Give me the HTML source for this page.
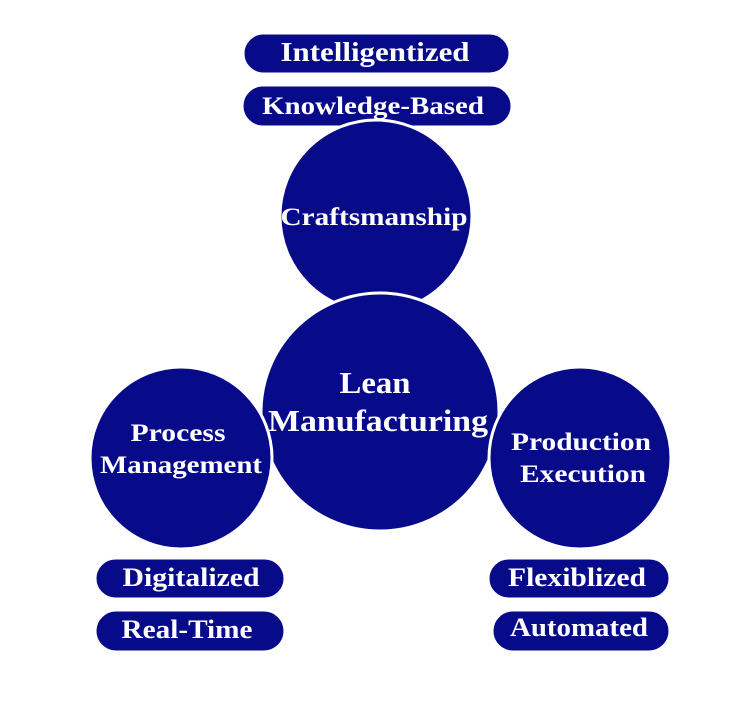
<!DOCTYPE html>
<html><head><meta charset="utf-8"><style>
body{margin:0;background:#fff;}
svg text{font-family:"Liberation Serif",serif;font-weight:bold;fill:#fff;text-anchor:middle;}
</style></head><body>
<svg width="750" height="700" viewBox="0 0 750 700">
<g fill="#070b8a" stroke="#fff" stroke-width="3">
<rect x="243" y="33" width="267" height="41" rx="20.5"/>
<rect x="242" y="85" width="270" height="42" rx="21"/>
<circle cx="376" cy="216" r="96"/>
<circle cx="380" cy="412" r="119"/>
<circle cx="181" cy="458" r="91"/>
<circle cx="580" cy="458" r="91"/>
<rect x="95" y="558" width="190" height="41" rx="20.5"/>
<rect x="95" y="610" width="190" height="42" rx="21"/>
<rect x="488" y="558" width="182" height="41" rx="20.5"/>
<rect x="492" y="610" width="178" height="42" rx="21"/>
</g>
<g lengthAdjust="spacingAndGlyphs">
<text x="375" y="61" font-size="27" textLength="189" lengthAdjust="spacingAndGlyphs">Intelligentized</text>
<text x="373" y="114" font-size="25" textLength="222" lengthAdjust="spacingAndGlyphs">Knowledge-Based</text>
<text x="374" y="225" font-size="25" textLength="187" lengthAdjust="spacingAndGlyphs">Craftsmanship</text>
<text x="375" y="393" font-size="31" textLength="71" lengthAdjust="spacingAndGlyphs">Lean</text>
<text x="378" y="431" font-size="31" textLength="220" lengthAdjust="spacingAndGlyphs">Manufacturing</text>
<text x="178" y="441" font-size="25" textLength="95" lengthAdjust="spacingAndGlyphs">Process</text>
<text x="181" y="473" font-size="25" textLength="162" lengthAdjust="spacingAndGlyphs">Management</text>
<text x="581" y="450" font-size="25" textLength="140" lengthAdjust="spacingAndGlyphs">Production</text>
<text x="583" y="482" font-size="25" textLength="126" lengthAdjust="spacingAndGlyphs">Execution</text>
<text x="191" y="586" font-size="26" textLength="137" lengthAdjust="spacingAndGlyphs">Digitalized</text>
<text x="187" y="638" font-size="26" textLength="131" lengthAdjust="spacingAndGlyphs">Real-Time</text>
<text x="577" y="586" font-size="26" textLength="138" lengthAdjust="spacingAndGlyphs">Flexiblized</text>
<text x="579" y="636" font-size="26" textLength="138" lengthAdjust="spacingAndGlyphs">Automated</text>
</g>
</svg>
</body></html>
